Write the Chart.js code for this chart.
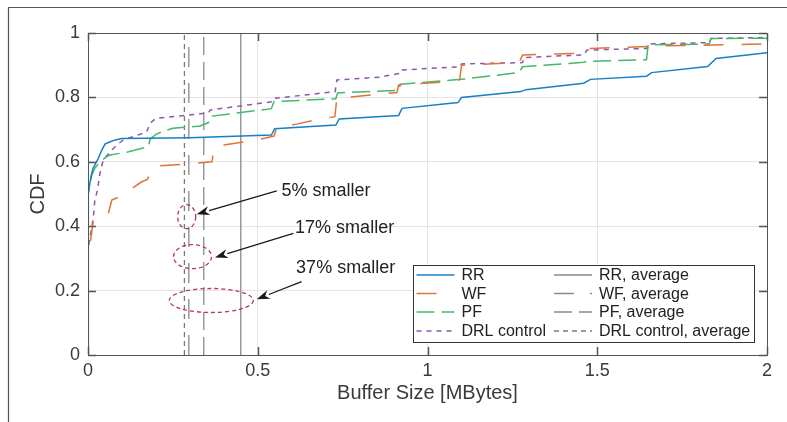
<!DOCTYPE html>
<html>
<head>
<meta charset="utf-8">
<script src="https://cdn.jsdelivr.net/npm/chart.js@4.4.1/dist/chart.umd.min.js"></script>
<style>
  html, body { margin: 0; padding: 0; background: #fff; }
</style>
</head>
<body>
<canvas id="cdfChart" width="787" height="422"></canvas>
<script>
// CDF curves (x in MBytes, y = CDF)
const rrX = [0, 0, 0.002, 0.005, 0.01, 0.015, 0.02, 0.025, 0.03, 0.04, 0.05, 0.06, 0.08, 0.1, 0.3, 0.54, 0.55, 0.73, 0.74, 0.915, 0.925, 1.09, 1.1, 1.275, 1.29, 1.46, 1.48, 1.645, 1.66, 1.825, 1.85, 2.0];
const rrY = [0, 0.45, 0.5, 0.53, 0.56, 0.58, 0.59, 0.6, 0.61, 0.635, 0.655, 0.66, 0.668, 0.672, 0.675, 0.683, 0.703, 0.714, 0.733, 0.744, 0.766, 0.784, 0.8, 0.818, 0.824, 0.844, 0.856, 0.866, 0.877, 0.896, 0.921, 0.939];

const wfX = [0, 0, 0.008, 0.012, 0.016, 0.04, 0.06, 0.07, 0.094, 0.11, 0.158, 0.175, 0.188, 0.2, 0.25, 0.315, 0.365, 0.372, 0.4, 0.46, 0.52, 0.548, 0.556, 0.615, 0.67, 0.727, 0.733, 0.81, 0.91, 0.915, 1.04, 1.095, 1.1, 1.27, 1.28, 1.46, 1.47, 1.58, 1.7, 1.95, 2.0];
const wfY = [0, 0.3, 0.36, 0.39, 0.42, 0.432, 0.44, 0.481, 0.492, 0.502, 0.538, 0.545, 0.58, 0.587, 0.59, 0.595, 0.6, 0.645, 0.652, 0.662, 0.673, 0.68, 0.707, 0.717, 0.73, 0.74, 0.797, 0.805, 0.815, 0.839, 0.847, 0.855, 0.9, 0.908, 0.932, 0.937, 0.952, 0.955, 0.96, 0.965, 0.966];

const pfX = [0, 0, 0.005, 0.01, 0.02, 0.035, 0.055, 0.065, 0.12, 0.178, 0.183, 0.2, 0.217, 0.25, 0.33, 0.362, 0.366, 0.54, 0.548, 0.73, 0.735, 0.915, 0.92, 1.1, 1.27, 1.28, 1.46, 1.47, 1.645, 1.65, 1.83, 1.835, 2.0];
const pfY = [0, 0.5, 0.53, 0.555, 0.58, 0.6, 0.616, 0.621, 0.631, 0.647, 0.67, 0.685, 0.693, 0.704, 0.711, 0.725, 0.742, 0.765, 0.787, 0.796, 0.814, 0.822, 0.841, 0.856, 0.877, 0.895, 0.909, 0.912, 0.917, 0.963, 0.966, 0.983, 0.984];

const drlX = [0, 0, 0.005, 0.01, 0.016, 0.02, 0.028, 0.035, 0.045, 0.065, 0.085, 0.104, 0.133, 0.173, 0.183, 0.2, 0.27, 0.355, 0.36, 0.545, 0.55, 0.728, 0.733, 0.86, 0.915, 0.92, 1.095, 1.1, 1.28, 1.285, 1.46, 1.47, 1.645, 1.65, 1.83, 1.835, 2.0];
const drlY = [0, 0.33, 0.36, 0.39, 0.43, 0.48, 0.512, 0.564, 0.606, 0.631, 0.652, 0.668, 0.678, 0.693, 0.72, 0.735, 0.742, 0.752, 0.761, 0.787, 0.797, 0.818, 0.854, 0.863, 0.874, 0.885, 0.895, 0.904, 0.908, 0.924, 0.932, 0.947, 0.952, 0.966, 0.97, 0.983, 0.986];

// average buffer sizes (vertical lines)
const avgNames = ['RR, average', 'WF, average', 'PF, average', 'DRL control, average'];
const avgValues = [0.45, 0.297, 0.341, 0.284];

const xTicks = [0, 0.5, 1, 1.5, 2];
const yTicks = [0, 0.2, 0.4, 0.6, 0.8, 1];

// annotation texts, ellipses and arrows (in data units)
const noteTexts = ['5% smaller', '17% smaller', '37% smaller'];
const noteTextPos = [[0.57, 0.51], [0.61, 0.393], [0.613, 0.269]];
const ellipseCenters = [[0.2907, 0.4295], [0.3078, 0.3053], [0.3632, 0.1693]];
const ellipseRadii = [[9, 12], [19, 12], [42, 12]];
const arrowFrom = [[0.556, 0.51], [0.605, 0.378], [0.629, 0.228]];
const arrowTo = [[0.32, 0.437], [0.374, 0.303], [0.497, 0.173]];

function pts(xs, ys) {
    return xs.map(function(x, i) { return { x: x, y: ys[i] }; });
}
function vline(v) {
    return [{ x: v, y: 0 }, { x: v, y: 1 }];
}
function tickText(v) {
    return String(Math.round(v * 10) / 10);
}

const FONT = '"Liberation Sans", Arial, Helvetica, sans-serif';
const TEXT = '#3a3a3a';

const curveStyles = [
    { label: 'RR', color: '#1580c6', dash: [] },
    { label: 'WF', color: '#e0733a', dash: [20, 18] },
    { label: 'PF', color: '#43b96a', dash: [18, 7] },
    { label: 'DRL control', color: '#8f55ae', dash: [5, 5] }
];
const avgStyles = [
    { color: '#8a8a8a', dash: [] },
    { color: '#8a8a8a', dash: [20, 16] },
    { color: '#8a8a8a', dash: [18, 7] },
    { color: '#7a7a7a', dash: [5, 4] }
];
const curveData = [pts(rrX, rrY), pts(wfX, wfY), pts(pfX, pfY), pts(drlX, drlY)];

let datasets = [];
curveStyles.forEach(function(s, i) {
    datasets.push({
        label: s.label,
        data: curveData[i],
        borderColor: s.color,
        borderDash: s.dash,
        borderWidth: 1.5,
        pointRadius: 0,
        tension: 0,
        fill: false
    });
});
avgValues.forEach(function(v, i) {
    datasets.push({
        label: avgNames[i],
        data: vline(v),
        borderColor: avgStyles[i].color,
        borderDash: avgStyles[i].dash,
        borderWidth: 1.3,
        pointRadius: 0,
        fill: false
    });
});

// box, inward ticks, figure frame
const boxPlugin = {
    id: 'boxPlugin',
    afterDraw: function(chart) {
        const ctx = chart.ctx, a = chart.chartArea;
        const xs = chart.scales.x, ys = chart.scales.y;
        ctx.save();
        ctx.strokeStyle = '#555555';
        ctx.lineWidth = 1;
        ctx.setLineDash([]);
        ctx.beginPath();
        ctx.rect(a.left + 0.5, a.top + 0.5, a.right - a.left, a.bottom - a.top);
        ctx.stroke();
        ctx.lineWidth = 1.5;
        ctx.beginPath();
        xTicks.forEach(function(t) {
            const px = Math.round(xs.getPixelForValue(t)) + 0.5;
            ctx.moveTo(px, a.bottom); ctx.lineTo(px, a.bottom - 8);
            ctx.moveTo(px, a.top); ctx.lineTo(px, a.top + 8);
        });
        yTicks.forEach(function(t) {
            const py = Math.round(ys.getPixelForValue(t)) + 0.5;
            ctx.moveTo(a.left, py); ctx.lineTo(a.left + 8, py);
            ctx.moveTo(a.right, py); ctx.lineTo(a.right - 8, py);
        });
        ctx.stroke();
        // outer figure frame (top and left)
        ctx.strokeStyle = '#555555';
        ctx.lineWidth = 1.2;
        ctx.beginPath();
        ctx.moveTo(8.5, 422); ctx.lineTo(8.5, 7.5); ctx.lineTo(787, 7.5);
        ctx.stroke();
        ctx.restore();
    }
};

// ellipses, arrows and text notes
const notesPlugin = {
    id: 'notesPlugin',
    afterDatasetsDraw: function(chart) {
        const ctx = chart.ctx;
        const xs = chart.scales.x, ys = chart.scales.y;
        ctx.save();
        ctx.strokeStyle = '#b8355e';
        ctx.lineWidth = 1.3;
        ctx.setLineDash([4, 3]);
        ellipseCenters.forEach(function(c, i) {
            ctx.beginPath();
            ctx.ellipse(xs.getPixelForValue(c[0]), ys.getPixelForValue(c[1]),
                ellipseRadii[i][0], ellipseRadii[i][1], 0, 0, Math.PI * 2);
            ctx.stroke();
        });
        ctx.setLineDash([]);
        ctx.strokeStyle = '#1a1a1a';
        ctx.fillStyle = '#1a1a1a';
        ctx.lineWidth = 1.3;
        arrowFrom.forEach(function(f, i) {
            const x0 = xs.getPixelForValue(f[0]), y0 = ys.getPixelForValue(f[1]);
            const x1 = xs.getPixelForValue(arrowTo[i][0]), y1 = ys.getPixelForValue(arrowTo[i][1]);
            const ang = Math.atan2(y1 - y0, x1 - x0);
            const hl = 13, hw = 4.5;
            const bx = x1 - hl * Math.cos(ang), by = y1 - hl * Math.sin(ang);
            ctx.beginPath();
            ctx.moveTo(x0, y0); ctx.lineTo(bx, by);
            ctx.stroke();
            ctx.beginPath();
            ctx.moveTo(x1, y1);
            ctx.lineTo(bx + hw * Math.sin(ang), by - hw * Math.cos(ang));
            ctx.lineTo(x1 - 0.7 * hl * Math.cos(ang), y1 - 0.7 * hl * Math.sin(ang));
            ctx.lineTo(bx - hw * Math.sin(ang), by + hw * Math.cos(ang));
            ctx.closePath();
            ctx.fill();
        });
        ctx.fillStyle = '#222222';
        ctx.font = '18px ' + FONT;
        ctx.textAlign = 'left';
        ctx.textBaseline = 'middle';
        noteTexts.forEach(function(t, i) {
            ctx.fillText(t, xs.getPixelForValue(noteTextPos[i][0]), ys.getPixelForValue(noteTextPos[i][1]));
        });
        ctx.restore();
    }
};

// two-column legend inside the axes, bottom right
const legendPlugin = {
    id: 'legendPlugin',
    afterDraw: function(chart) {
        const ctx = chart.ctx, a = chart.chartArea;
        const right = a.right - 13, bottom = a.bottom - 13;
        const w = 341, h = 77;
        const left = right - w, top = bottom - h;
        ctx.save();
        ctx.fillStyle = '#ffffff';
        ctx.fillRect(left, top, w, h);
        ctx.strokeStyle = '#333333';
        ctx.lineWidth = 1;
        ctx.setLineDash([]);
        ctx.strokeRect(left + 0.5, top + 0.5, w, h);
        ctx.font = '16px ' + FONT;
        ctx.textBaseline = 'middle';
        ctx.textAlign = 'left';
        const rows = [10, 28.5, 47, 66];
        chart.data.datasets.forEach(function(ds, i) {
            const col = i < 4 ? 0 : 1;
            const row = i % 4;
            const sx = left + (col === 0 ? 3.5 : 141);
            const y = top + rows[row];
            ctx.strokeStyle = ds.borderColor;
            ctx.lineWidth = 1.5;
            ctx.setLineDash(ds.borderDash);
            ctx.beginPath();
            ctx.moveTo(sx, y); ctx.lineTo(sx + 38, y);
            ctx.stroke();
            ctx.setLineDash([]);
            ctx.fillStyle = '#222222';
            ctx.fillText(ds.label, sx + 45, y + 1);
        });
        ctx.restore();
    }
};

const ctx = document.getElementById('cdfChart').getContext('2d');
new Chart(ctx, {
    type: 'line',
    data: { datasets: datasets },
    options: {
        responsive: false,
        animation: false,
        layout: { padding: { left: 0, top: 33, right: 20, bottom: 0 } },
        plugins: {
            legend: { display: false },
            tooltip: { enabled: false }
        },
        scales: {
            x: {
                type: 'linear',
                min: 0, max: 2,
                afterBuildTicks: function(scale) {
                    scale.ticks = xTicks.map(function(v) { return { value: v }; });
                },
                afterFit: function(scale) { scale.height = 67; },
                grid: { color: '#e4e4e4', drawTicks: false },
                border: { color: '#555555' },
                ticks: { color: TEXT, font: { family: FONT, size: 18 }, padding: 5, maxRotation: 0,
                         callback: tickText },
                title: { display: true, text: 'Buffer Size [MBytes]', color: TEXT,
                         font: { family: FONT, size: 20 }, padding: { top: 0, bottom: 17 } }
            },
            y: {
                min: 0, max: 1,
                afterBuildTicks: function(scale) {
                    scale.ticks = yTicks.map(function(v) { return { value: v }; });
                },
                afterFit: function(scale) { scale.width = 88; },
                grid: { color: '#e4e4e4', drawTicks: false },
                border: { color: '#555555' },
                ticks: { color: TEXT, font: { family: FONT, size: 18 }, padding: 8,
                         callback: tickText },
                title: { display: true, text: 'CDF', color: TEXT,
                         font: { family: FONT, size: 20 }, padding: { top: 26, bottom: 0 } }
            }
        }
    },
    plugins: [boxPlugin, notesPlugin, legendPlugin]
});
</script>
</body>
</html>
